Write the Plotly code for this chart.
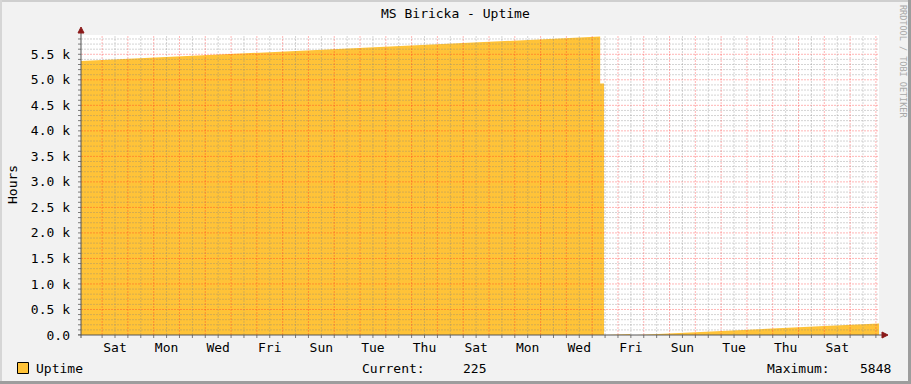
import plotly.graph_objects as go

# ---- data (days from first labelled midnight, uptime in hours) ----
days = [-0.818, 0, 1, 2, 3, 4, 5, 6, 7, 8, 9, 10, 11, 12, 13, 14, 15, 16, 17, 18, 19,
        19.31, 19.31, 19.46, 19.46, 20.27, 20.28, 20.47, 20.48, 20.73,
        21, 22, 23, 24, 25, 26, 27, 28, 29, 30, 30.12]
hours = [5367, 5387, 5411, 5435, 5459, 5483, 5507, 5531, 5555, 5579, 5603, 5627, 5651, 5675,
         5699, 5723, 5747, 5771, 5795, 5819, 5843,
         5848, 4930, 4930, 0, 0, 14, 18, 0, 0,
         7, 31, 55, 79, 103, 127, 151, 175, 199, 223, 225]

day_labels = ["Sat", "Mon", "Wed", "Fri", "Sun", "Tue", "Thu", "Sat", "Mon", "Wed",
              "Fri", "Sun", "Tue", "Thu", "Sat"]
day_label_pos = [0.5, 2.5, 4.5, 6.5, 8.5, 10.5, 12.5, 14.5, 16.5, 18.5,
                 20.5, 22.5, 24.5, 26.5, 28.5]
y_tickvals = [0, 500, 1000, 1500, 2000, 2500, 3000, 3500, 4000, 4500, 5000, 5500]
y_ticktext = ["0.0", "0.5 k", "1.0 k", "1.5 k", "2.0 k", "2.5 k", "3.0 k", "3.5 k",
              "4.0 k", "4.5 k", "5.0 k", "5.5 k"]

title = "MS Biricka - Uptime"
series_name = "Uptime"
current_val = "225"
max_val = "5848"

X_RANGE = [-0.818, 30.12]
Y_RANGE = [0, 5878]

# ---- layout geometry (pixels) ----
W, H = 911, 384
L, R, T, B = 81, 879, 35, 335
PW, PH = R - L, B - T

def px(p):
    return (p - L) / PW

def py(p):
    return (B - p) / PH

FONT = "DejaVu Sans Mono"
AREA = "#FFC338"

fig = go.Figure()
fig.add_trace(go.Scatter(x=days, y=hours, mode="lines", line=dict(width=0, color=AREA),
                         fill="tozeroy", fillcolor=AREA, hoverinfo="skip", showlegend=False))

shapes = []
MINOR = "rgba(130,130,130,0.34)"
MAJOR = "rgba(255,30,30,0.33)"
# horizontal grid
for v in range(100, int(Y_RANGE[1]) + 1, 100):
    col = MAJOR if v % 500 == 0 else MINOR
    shapes.append(dict(type="line", xref="x", yref="y", x0=X_RANGE[0], x1=X_RANGE[1],
                       y0=v, y1=v, line=dict(color=col, width=1, dash="2px,1px"), layer="above"))
# vertical grid
k = 0
while k * 0.5 <= X_RANGE[1]:
    xv = k * 0.5
    col = MAJOR if k % 2 == 0 else MINOR
    shapes.append(dict(type="line", xref="x", yref="y", x0=xv, x1=xv, y0=Y_RANGE[0], y1=Y_RANGE[1],
                       line=dict(color=col, width=1, dash="2px,1px"), layer="above"))
    k += 1
# ticks
k = 0
while k * 0.5 <= X_RANGE[1]:
    xv = k * 0.5
    shapes.append(dict(type="line", xref="x", yref="paper", x0=xv, x1=xv, y0=0, y1=py(338),
                       line=dict(color="#7a7a7a", width=1), layer="above"))
    k += 1
for v in range(0, int(Y_RANGE[1]) + 1, 100):
    shapes.append(dict(type="line", xref="paper", yref="y", x0=px(78), x1=0, y0=v, y1=v,
                       line=dict(color="#7a7a7a", width=1), layer="above"))
# axis lines + arrows
AX = "#555555"
shapes.append(dict(type="line", xref="paper", yref="paper", x0=0, x1=0, y0=py(338), y1=py(31),
                   line=dict(color=AX, width=1), layer="above"))
shapes.append(dict(type="line", xref="paper", yref="paper", x0=px(78), x1=px(884), y0=0, y1=0,
                   line=dict(color=AX, width=1), layer="above"))
ARROW = "#8b1a1a"
shapes.append(dict(type="path", xref="paper", yref="paper",
                   path=f"M {px(78)} {py(33)} L {px(84)} {py(33)} L {px(81)} {py(27)} Z",
                   fillcolor=ARROW, line=dict(color=ARROW, width=1), layer="above"))
shapes.append(dict(type="path", xref="paper", yref="paper",
                   path=f"M {px(882)} {py(332)} L {px(882)} {py(338)} L {px(888)} {py(335)} Z",
                   fillcolor=ARROW, line=dict(color=ARROW, width=1), layer="above"))
# legend swatch
shapes.append(dict(type="rect", xref="paper", yref="paper", x0=px(17.5), x1=px(28.5),
                   y0=py(373.5), y1=py(362.5), fillcolor=AREA, line=dict(color="#000", width=1)))
# image border
shapes.append(dict(type="rect", xref="paper", yref="paper", x0=px(0), x1=px(W), y0=py(0), y1=py(2),
                   fillcolor="#cfcfcf", line=dict(width=0), layer="above"))
shapes.append(dict(type="rect", xref="paper", yref="paper", x0=px(0), x1=px(2), y0=py(0), y1=py(H),
                   fillcolor="#d6d6d6", line=dict(width=0), layer="above"))
shapes.append(dict(type="rect", xref="paper", yref="paper", x0=px(0), x1=px(W), y0=py(H - 3), y1=py(H),
                   fillcolor="#9d9d9d", line=dict(width=0), layer="above"))
shapes.append(dict(type="rect", xref="paper", yref="paper", x0=px(W - 3), x1=px(W), y0=py(0), y1=py(H),
                   fillcolor="#9d9d9d", line=dict(width=0), layer="above"))

def ann(text, x, y, xanchor="left", size=13, color="#000", angle=0):
    return dict(text=text, x=px(x), y=py(y), xref="paper", yref="paper", showarrow=False,
                xanchor=xanchor, yanchor="middle", textangle=angle,
                font=dict(family=FONT, size=size, color=color))

annotations = [
    ann(title, W / 2, 14, "center"),
    ann("Hours", 12, 185, "center", angle=-90),
    ann(series_name, 34, 368),
    ann("Current:", 360, 368),
    ann(current_val, 488, 368, "right"),
    ann("Maximum:", 765, 368),
    ann(max_val, 893, 368, "right"),
    ann("RRDTOOL / TOBI OETIKER", 903, 61, "center", size=8.5, color="#a8a8a8", angle=90),
]

fig.update_layout(
    width=W, height=H, autosize=False,
    margin=dict(l=L, r=W - R, t=T, b=H - B, pad=0),
    paper_bgcolor="#f2f2f2", plot_bgcolor="#ffffff",
    font=dict(family=FONT, size=13, color="#000"),
    showlegend=False,
    shapes=shapes, annotations=annotations,
    xaxis=dict(range=X_RANGE, tickmode="array", tickvals=day_label_pos, ticktext=day_labels,
               showgrid=False, zeroline=False, showline=False, ticks="", ticklabelstandoff=3,
               tickfont=dict(family=FONT, size=13, color="#000"), fixedrange=True),
    yaxis=dict(range=Y_RANGE, tickmode="array", tickvals=y_tickvals, ticktext=y_ticktext,
               showgrid=False, zeroline=False, showline=False, ticks="", ticklabelstandoff=10,
               tickfont=dict(family=FONT, size=13, color="#000"), fixedrange=True),
)

fig.write_html("out.html", config={"displayModeBar": False})
